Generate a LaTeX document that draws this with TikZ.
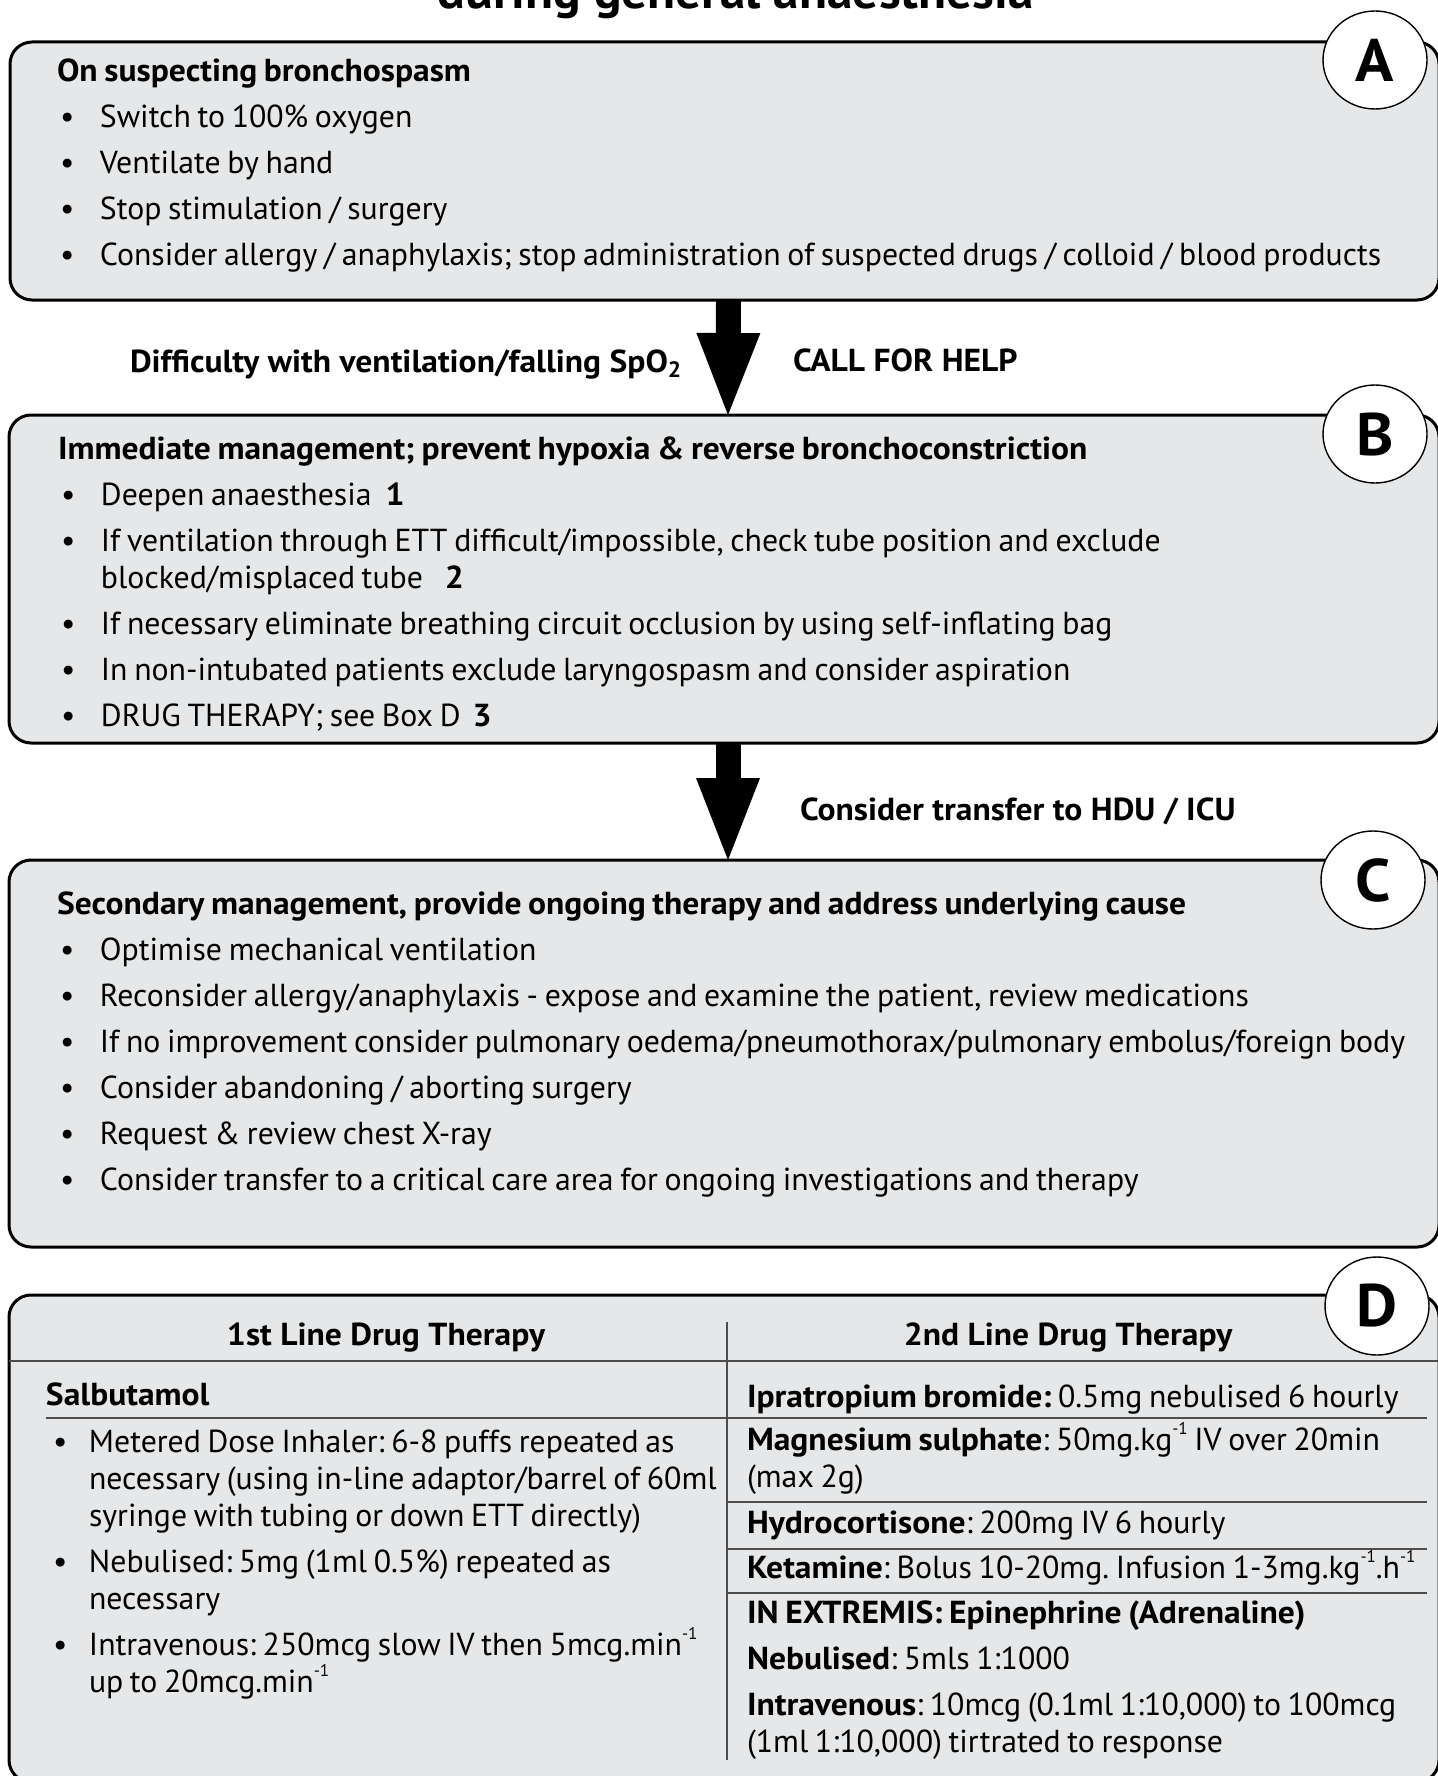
\documentclass[tikz,border=0pt]{standalone}
\usepackage{fontspec}
\setmainfont{PT Sans}[BoldFeatures={FakeStretch=1.055}]
\usetikzlibrary{arrows.meta,fit,shapes.geometric}
\definecolor{boxgrey}{HTML}{E6E7E8}
\definecolor{rulegrey}{HTML}{4D4D4D}
\newcommand{\boxfont}{\fontsize{15.9}{18.5}\selectfont\frenchspacing\setlength{\parskip}{4.5pt}}
\newcommand{\itm}[1][1.5pt]{\hangindent=21.5pt\hangafter=1\noindent\makebox[21.5pt][l]{\hspace{#1}\textbullet}}
\newcommand{\pw}[1]{\raisebox{0.5em}{\fontsize{8.5}{8.5}\selectfont #1}}

\begin{document}
\begin{tikzpicture}
  [x=0.5pt,y=-0.5pt,every node/.style={inner sep=0pt,outer sep=0pt}]

  \tikzstyle{box} = [draw,line width=1.5pt,rounded corners=11pt,fill=boxgrey]
  \tikzstyle{tag} = [draw,ellipse,line width=0.7pt,fill=white,minimum width=52pt,minimum height=49pt,font=\fontsize{30}{30}\selectfont\bfseries]
  \tikzstyle{txt} = [anchor=base west,align=left,text width=700pt]
  \tikzstyle{lbl} = [anchor=base west,font=\fontsize{15.9}{18.5}\selectfont\bfseries]
  \tikzstyle{bigarrow} = [line width=12.5pt,-{Triangle[width=32pt,length=41pt,line width=0pt]}]
  \tikzstyle{rule} = [draw=rulegrey,line width=1pt]

  \useasboundingbox (0,0) rectangle (1438,1776);

  \node[anchor=base,font=\fontsize{24.4}{24.4}\selectfont\bfseries] (title) at (736,9) {during general anaesthesia};

  \node[box,fit={(10,42) (1439,300)}]   (boxA) {};
  \node[box,fit={(9,415) (1439,743)}]   (boxB) {};
  \node[box,fit={(9,860) (1439,1247)}]  (boxC) {};
  \node[box,fit={(9,1295) (1439,1782)}] (boxD) {};

  \node[txt] (txtA) at (57,82) {\boxfont
    \textbf{On suspecting bronchospasm}\par
    \itm Switch to 100\% oxygen\par
    \itm Ventilate by hand\par
    \itm Stop stimulation / surgery\par
    \itm Consider allergy / anaphylaxis; stop administration of suspected drugs / colloid / blood products\par};

  \node[txt] (txtB) at (58,459) {\boxfont
    \textbf{Immediate management; prevent hypoxia \& reverse bronchoconstriction}\par
    \itm Deepen anaesthesia\hspace{7pt}\textbf{1}\par
    \itm If ventilation through ETT difficult/impossible, check tube position and exclude\newline blocked/misplaced tube\hspace{11pt}\textbf{2}\par
    \itm If necessary eliminate breathing circuit occlusion by using self-inflating bag\par
    \itm In non-intubated patients exclude laryngospasm and consider aspiration\par
    \itm DRUG THERAPY; see Box D\hspace{6pt}\textbf{3}\par};

  \node[txt] (txtC) at (57,914) {\boxfont
    \textbf{Secondary management, provide ongoing therapy and address underlying cause}\par
    \itm Optimise mechanical ventilation\par
    \itm Reconsider allergy/anaphylaxis - expose and examine the patient, review medications\par
    \itm If no improvement consider pulmonary oedema/pneumothorax/pulmonary embolus/foreign body\par
    \itm Consider abandoning / aborting surgery\par
    \itm Request \& review chest X-ray\par
    \itm Consider transfer to a critical care area for ongoing investigations and therapy\par};

  \draw[bigarrow] ([xshift=2pt]boxA.south) -- ([xshift=2pt]boxB.north);
  \draw[bigarrow] ([xshift=2pt]boxB.south) -- ([xshift=2pt]boxC.north);

  \node[lbl] (why)  at (130,372) {Difficulty with ventilation/falling SpO\textsubscript{2}};
  \node[lbl] (help) at (793,371) {CALL FOR HELP};
  \node[lbl] (icu)  at (800,820) {Consider transfer to HDU / ICU};

  \draw[rule] (9,1361) -- (1439,1361);
  \draw[rule] (46,1418) -- (727,1418);
  \draw[rule] (727,1418) -- (1427,1418);
  \draw[rule] (727,1502) -- (1427,1502);
  \draw[rule] (727,1549) -- (1427,1549);
  \draw[rule] (727,1593) -- (1427,1593);
  \draw[rulegrey,line width=0.8pt] (727,1322) -- (727,1760);

  \node[lbl,anchor=base] (head1) at (386,1345) {1st Line Drug Therapy};
  \node[lbl,anchor=base] (head2) at (1068,1345) {2nd Line Drug Therapy};

  \node[lbl] (salb) at (46,1405) {Salbutamol};
  \node[txt,text width=345pt] (salbtx) at (46,1452) {\boxfont
    \itm[3.5pt]Metered Dose Inhaler: 6-8 puffs repeated as\newline necessary (using in-line adaptor/barrel of 60ml\newline syringe with tubing or down ETT directly)\par
    \itm[3.5pt]Nebulised: 5mg (1ml 0.5\%) repeated as\newline necessary\par
    \itm[3.5pt]Intravenous: 250mcg slow IV then 5mcg.min\pw{-1}\newline up to 20mcg.min\pw{-1}\par};

  \node[txt,text width=345pt] (ipra)  at (747,1407) {\boxfont\textbf{Ipratropium bromide:} 0.5mg nebulised 6 hourly\par};
  \node[txt,text width=345pt] (magn)  at (747,1450) {\boxfont\textbf{Magnesium sulphate}: 50mg.kg\pw{-1} IV over 20min\newline (max 2g)\par};
  \node[txt,text width=345pt] (hydro) at (747,1533) {\boxfont\textbf{Hydrocortisone}: 200mg IV 6 hourly\par};
  \node[txt,text width=345pt] (keta)  at (747,1578) {\boxfont\textbf{Ketamine}: Bolus 10-20mg. Infusion 1-3mg.kg\pw{-1}.h\pw{-1}\par};
  \node[txt,text width=345pt] (epi)   at (747,1623) {\boxfont
    \textbf{IN EXTREMIS: Epinephrine (Adrenaline)}\par
    \textbf{Nebulised}: 5mls 1:1000\par
    \textbf{Intravenous}: 10mcg (0.1ml 1:10,000) to 100mcg\newline (1ml 1:10,000) tirtrated to response\par};

  \node[tag] (tagA) at ([shift={(-64,18)}]boxA.north east) {A};
  \node[tag] (tagB) at ([shift={(-64,19)}]boxB.north east) {B};
  \node[tag] (tagC) at ([shift={(-66,20)}]boxC.north east) {C};
  \node[tag] (tagD) at ([shift={(-62,11)}]boxD.north east) {D};
\end{tikzpicture}
\end{document}
